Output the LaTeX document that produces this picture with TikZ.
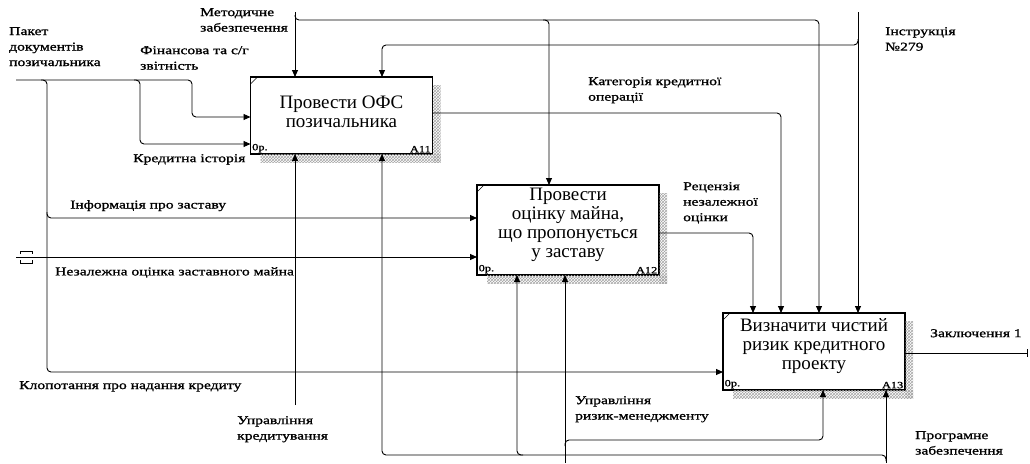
\documentclass[tikz,border=0pt]{standalone}
\usepackage{fontspec}
\setmainfont{Liberation Serif}
\newfontfamily\labfont[FakeStretch=1.3,FakeBold=1.2]{Liberation Serif}
\usetikzlibrary{arrows.meta,patterns,calc}
\begin{document}
\begin{tikzpicture}[x=1pt,y=-1pt,
  box/.style={draw, line width=1.1pt, fill=white, inner sep=0pt, outer sep=0pt, minimum width=182pt},
  flow/.style={draw, line width=0.9pt, rounded corners=4pt, -{Triangle[length=7pt,width=6pt]}},
  wire/.style={draw, line width=0.9pt, rounded corners=4pt},
  lab/.style={font=\labfont\fontsize{12}{15.5}\selectfont, inner sep=0pt, anchor=north west, align=left},
  boxtext/.style={font=\fontsize{19}{19}\selectfont, align=center, inner sep=0pt},
  tag/.style={font=\labfont\fontsize{9.5}{10}\selectfont, inner sep=1.5pt},
  hatch/.style={pattern=crosshatch, pattern color=gray!70, draw=none},
]
\useasboundingbox (0,0) rectangle (1030,463);

% ---------- boxes ----------
\node[box, minimum height=77pt] (A11) at (341.5,115.5) {};
\node[box, minimum height=90pt] (A12) at (568,230) {};
\node[box, minimum height=77pt] (A13) at (814,351.5) {};

\foreach \b in {A11,A12,A13}{
  \fill[hatch] ($(\b.north east)+(0.6,8)$) rectangle ($(\b.south east)+(8,8)$);
  \fill[hatch] ($(\b.south west)+(10,0.6)$) rectangle ($(\b.south east)+(8,8)$);
  \draw[line width=0.6pt] ($(\b.north west)+(0,7)$) -- ($(\b.north west)+(7,0)$);
}

\node[boxtext] (A11t) at ($(A11.center)+(0,-4)$) {Провести ОФС\\позичальника};
\node[boxtext] (A12t) at ($(A12.center)+(0,-5)$) {Провести\\оцінку майна,\\що пропонується\\у заставу};
\node[boxtext] (A13t) at ($(A13.center)+(0,-5.5)$) {Визначити чистий\\ризик кредитного\\проекту};

\node[tag, anchor=south west] (A11c) at (A11.south west) {0р.};
\node[tag, anchor=south east] (A11n) at (A11.south east) {A11};
\node[tag, anchor=south west] (A12c) at (A12.south west) {0р.};
\node[tag, anchor=south east] (A12n) at (A12.south east) {A12};
\node[tag, anchor=south west] (A13c) at (A13.south west) {0р.};
\node[tag, anchor=south east] (A13n) at (A13.south east) {A13};

% ---------- inputs ----------
\coordinate (pkg) at (16,80);
\coordinate (finB) at (192,117);
\coordinate (krB) at (140,144);
\coordinate (vL) at (47,80);
\coordinate (infoB) at (47,218);
\coordinate (klopB) at (47,372);
\coordinate (tun) at (16,257);

\draw[flow] (pkg) -- (finB |- pkg) -- (finB) -- (finB -| A11.west);
\draw[flow] ($(krB |- pkg)+(-6,0)$) -- (krB |- pkg) -- (krB) -- (krB -| A11.west);
\draw[flow] ($(vL)+(-6,0)$) -- (vL) -- (klopB) -- (klopB -| A13.west);
\draw[flow] ($(infoB)+(0,-6)$) -- (infoB) -- (infoB -| A12.west);
\draw[flow] (tun) -- (tun -| A12.west);
\draw[line width=0.7pt] (20,254) -- (20,251) -- (32,251) -- (32,254);
\draw[line width=0.7pt] (20,260) -- (20,263) -- (32,263) -- (32,260);

% ---------- controls ----------
\coordinate (meth) at (295,12);
\coordinate (m1) at (295,20);
\coordinate (m2) at (549,20);
\coordinate (m3) at (819,20);
\draw[flow] (meth) -- (meth |- A11.north);
\draw[flow] ($(m1)+(0,-5)$) -- (m1) -- (m3) -- (m3 |- A13.north);
\draw[flow] ($(m2)+(-6,0)$) -- (m2) -- (m2 |- A12.north);

\coordinate (ins) at (858,12);
\coordinate (i1) at (858,45);
\coordinate (i2) at (382,45);
\draw[flow] (ins) -- (ins |- A13.north);
\draw[flow] ($(i1)+(0,-6)$) -- (i1) -- (i2) -- (i2 |- A11.north);

% ---------- outputs ----------
\coordinate (catB) at (781,113);
\draw[flow] (catB -| A11.east) -- (catB) -- (catB |- A13.north);
\coordinate (recB) at (753,233);
\draw[flow] (recB -| A12.east) -- (recB) -- (recB |- A13.north);
\coordinate (out) at (1027,353);
\draw[wire] (out -| A13.east) -- (out);
\draw[line width=0.9pt] ($(out)+(0,-4)$) -- ($(out)+(0,4)$);

% ---------- mechanisms ----------
\coordinate (uprK) at (295,405);
\draw[flow] (uprK) -- (uprK |- A11.south);
\coordinate (prog) at (886,463);
\coordinate (p1) at (886,455);
\coordinate (p2) at (517,455);
\coordinate (p3) at (382,455);
\draw[flow] (prog) -- (prog |- A13.south);
\draw[flow] ($(p1)+(0,6)$) -- (p1) -- (p3) -- (p3 |- A11.south);
\draw[flow] ($(p2)+(6,0)$) -- (p2) -- (p2 |- A12.south);
\coordinate (risk) at (565,463);
\coordinate (r1) at (565,440);
\coordinate (r2) at (823,440);
\draw[flow] (risk) -- (risk |- A12.south);
\draw[flow] ($(r1)+(0,6)$) -- (r1) -- (r2) -- (r2 |- A13.south);

% ---------- labels ----------
\node[lab] (lPkg) at (9,27) {Пакет\\документів\\позичальника};
\node[lab] (lMeth) at (200,8) {Методичне\\забезпечення};
\node[lab] (lFin) at (140,46) {Фінансова та с/г\\звітність};
\node[lab] (lKr) at (133,154) {Кредитна історія};
\node[lab] (lInfo) at (70,200) {Інформація про заставу};
\node[lab] (lNez) at (55,267) {Незалежна оцінка заставного майна};
\node[lab] (lKlop) at (19,381) {Клопотання про надання кредиту};
\node[lab] (lUprK) at (237,416) {Управління\\кредитування};
\node[lab] (lRisk) at (575,396) {Управління\\ризик-менеджменту};
\node[lab] (lProg) at (915,431) {Програмне\\забезпечення};
\node[lab] (lConc) at (930,329) {Заключення 1};
\node[lab] (lRec) at (683,182) {Рецензія\\незалежної\\оцінки};
\node[lab] (lCat) at (588,77) {Категорія кредитної\\операції};
\node[lab] (lIns) at (885,27) {Інструкція\\№279};
\end{tikzpicture}
\end{document}
